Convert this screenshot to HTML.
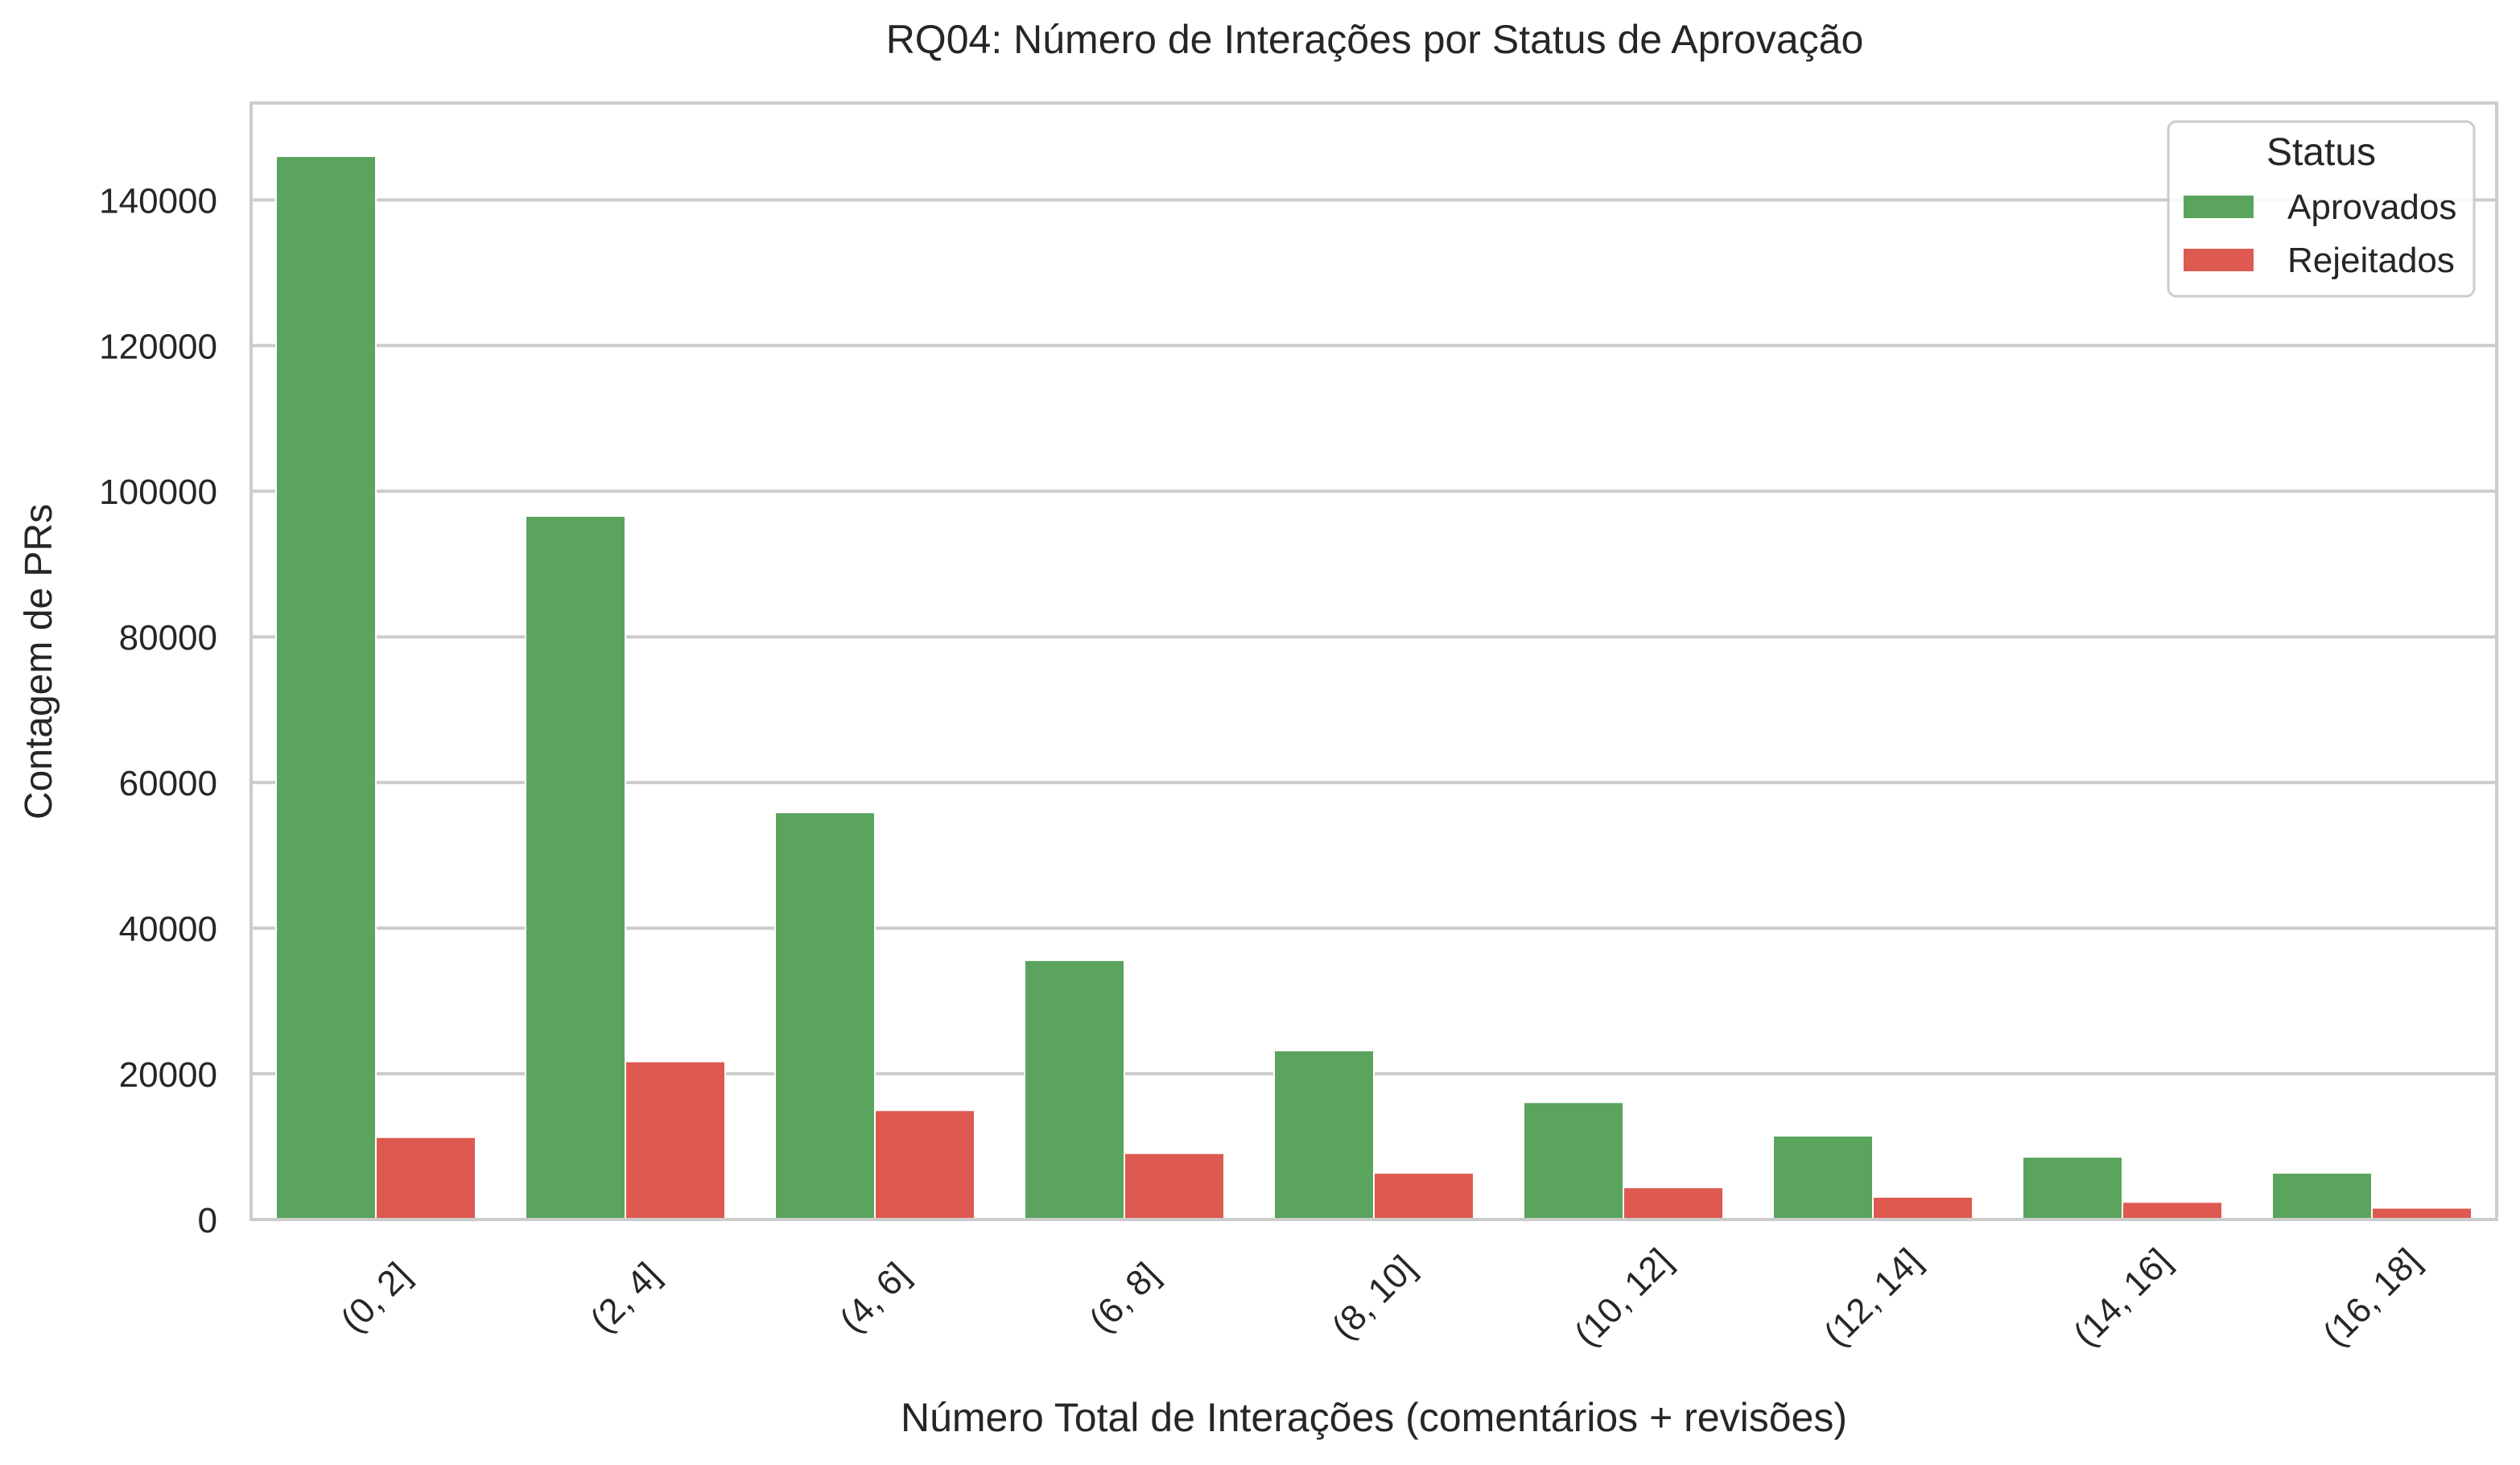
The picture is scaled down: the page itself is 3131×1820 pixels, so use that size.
<!DOCTYPE html>
<html><head><meta charset="utf-8"><style>
html,body{margin:0;padding:0;background:#fff}
svg text{font-family:"Liberation Sans",Arial,sans-serif;fill:#262626}
</style></head><body>
<svg width="3131" height="1815" viewBox="0 0 3131 1815" xmlns="http://www.w3.org/2000/svg">
<g id="grid"></g>
<g id="bars"></g>
<g id="axes"></g>
<text x="1708" y="66" font-size="50" text-anchor="middle">RQ04: Número de Interações por Status de Aprovação</text>
<text x="1707" y="1778" font-size="50" text-anchor="middle">Número Total de Interações (comentários + revisões)</text>
<text x="0" y="0" font-size="48" text-anchor="middle" transform="translate(64,822) rotate(-90)">Contagem de PRs</text>
<g>
<rect x="2694" y="151" width="380" height="217" rx="10" fill="#fff" fill-opacity="0.85" stroke="#cccccc" stroke-width="3"/>
<text x="2884" y="205" font-size="48" text-anchor="middle">Status</text>
<rect x="2713" y="243" width="87" height="28" fill="#5aa45d"/>
<text x="2842" y="272" font-size="44">Aprovados</text>
<rect x="2713" y="309" width="87" height="28" fill="#de5950"/>
<text x="2842" y="338" font-size="44">Rejeitados</text>
</g>
</svg>
<script>
const categories=["(0, 2]","(2, 4]","(4, 6]","(6, 8]","(8, 10]","(10, 12]","(12, 14]","(14, 16]","(16, 18]"];
const aprovados=[146000,96600,55900,35600,23200,16100,11500,8600,6400];
const rejeitados=[11300,21700,15000,9100,6400,4400,3100,2400,1600];
const yTicks=[0,20000,40000,60000,80000,100000,120000,140000];
const NS="http://www.w3.org/2000/svg";
const L=312,R=3102,T=128,B=1515,YMAX=153300;
const y=v=>B-(v/YMAX)*(B-T);
const band=(R-L)/categories.length;
const xc=i=>L+band*(i+0.5);
function mk(tag,attrs,parent){const e=document.createElementNS(NS,tag);for(const k in attrs)e.setAttribute(k,attrs[k]);parent.appendChild(e);return e;}
const grid=document.getElementById('grid'),bars=document.getElementById('bars'),axes=document.getElementById('axes');
yTicks.forEach(t=>{
  const ln=mk('line',{x1:L,x2:R,y1:y(t),y2:y(t),stroke:'#cccccc','stroke-width':4},grid);
  
  
  const tx=mk('text',{x:270,y:y(t)+16,'font-size':44,'text-anchor':'end'},axes);
  tx.textContent=t;
  
  
});
const bw=band*0.4;
categories.forEach((c,i)=>{
  const g=mk('rect',{x:xc(i)-bw,y:y(aprovados[i]),width:bw,height:B-y(aprovados[i]),fill:'#5aa45d',stroke:'#fff','stroke-width':2},bars);
  
  
  const r=mk('rect',{x:xc(i),y:y(rejeitados[i]),width:bw,height:B-y(rejeitados[i]),fill:'#de5950',stroke:'#fff','stroke-width':2},bars);
  
  
  const tx=mk('text',{x:0,y:0,'font-size':44,'text-anchor':'middle','dominant-baseline':'central',transform:`translate(${xc(i)},1612) rotate(-45)`},axes);
  tx.textContent=c;
  
  
});
const sp=mk('rect',{x:L,y:T,width:R-L,height:B-T,fill:'none',stroke:'#cccccc','stroke-width':4},axes);


</script>
</body></html>
